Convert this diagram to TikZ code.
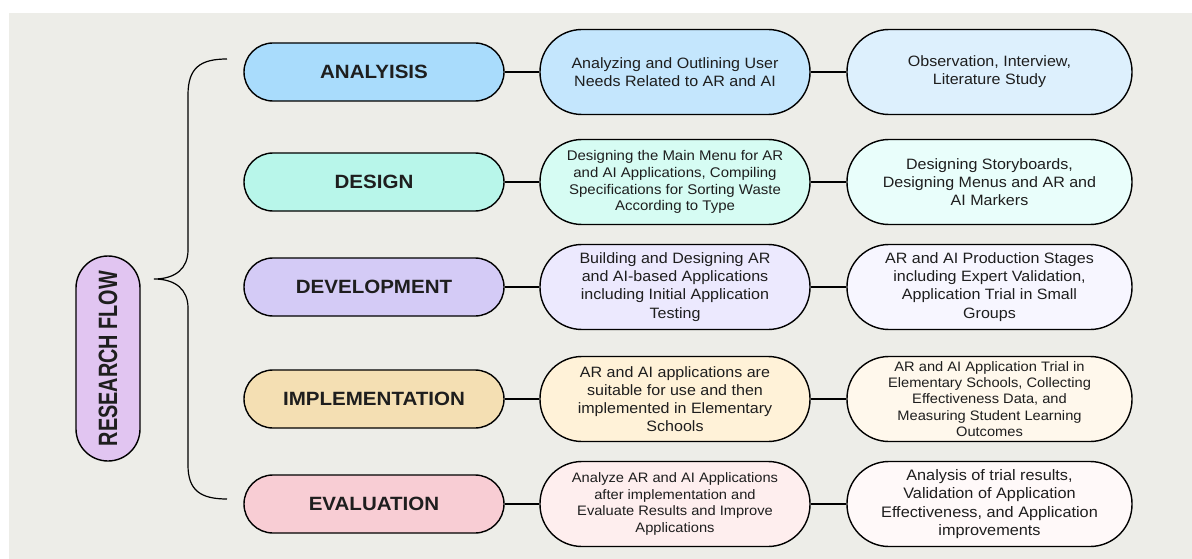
\documentclass[tikz,border=0pt]{standalone}
\usepackage{fontspec}
\setmainfont{Liberation Sans}[FakeStretch=1.07]
\definecolor{canvas}{HTML}{EDEDE8}
\definecolor{ink}{HTML}{1E1E1E}
\definecolor{rootfill}{HTML}{E1C5F1}
% stage / task / method fills per row
\definecolor{sA}{HTML}{A9DCFC}\definecolor{tA}{HTML}{C4E6FD}\definecolor{mA}{HTML}{DDF0FD}
\definecolor{sB}{HTML}{B8F6EA}\definecolor{tB}{HTML}{D6FCF3}\definecolor{mB}{HTML}{E9FEFB}
\definecolor{sC}{HTML}{D4CBF6}\definecolor{tC}{HTML}{ECE9FE}\definecolor{mC}{HTML}{F7F6FF}
\definecolor{sD}{HTML}{F4DFB3}\definecolor{tD}{HTML}{FFF2D8}\definecolor{mD}{HTML}{FFF8EC}
\definecolor{sE}{HTML}{F8CDD4}\definecolor{tE}{HTML}{FEEEEE}\definecolor{mE}{HTML}{FFF9F9}
\newcommand{\bodyA}{\fontsize{15}{18.2}\selectfont}
\newcommand{\bodyB}{\fontsize{14}{16.8}\selectfont}
\newcommand{\bodyC}{\fontsize{13.7}{16.4}\selectfont}
\begin{document}
\begin{tikzpicture}[x=1pt,y=-1pt,
  pill/.style={draw=black, line width=1.4pt, rounded corners=#1, inner sep=0pt,
               align=center, text=ink},
  stage/.style={pill=29pt, minimum width=260pt, minimum height=58pt,
                font=\fontsize{19.2}{23}\selectfont\bfseries},
  task/.style={pill=42pt, minimum width=270pt, minimum height=85pt},
  method/.style={pill=42pt, minimum width=285pt, minimum height=85pt},
  link/.style={draw=black, line width=1.4pt},
  bracket/.style={draw=black, line width=1.2pt}
]
\useasboundingbox (0,0) rectangle (1192,559);
\fill[white] (0,0) rectangle (1192,559);
\fill[canvas] (9,13) rectangle (1192,559);

% root label
\node[pill=32pt, fill=rootfill, minimum width=205pt, minimum height=64pt,
      rotate=90, font=\fontsize{26.5}{30}\selectfont\bfseries]
  (root) at (108,358.5) {\scalebox{0.7}[1]{RESEARCH FLOW}};

% curly bracket grouping the five stages
\coordinate (btop) at (227,59);
\coordinate (btip) at (154,279);
\coordinate (bbot) at (227,499);
\draw[bracket] (btop) .. controls (200,59) and (188,68) .. (188,95)
  -- (188,250) .. controls (188,268) and (176,279) .. (btip)
  .. controls (176,279) and (188,290) .. (188,308)
  -- (188,465) .. controls (188,490) and (200,499) .. (bbot);

% row 1
\node[stage, fill=sA] (s1) at (374,72) {ANALYISIS};
\node[task, fill=tA, font=\bodyA] (t1) at (675,72)
  {Analyzing and Outlining User\\Needs Related to AR and AI};
\node[method, fill=mA, font=\bodyA] (m1) at (989.5,72)
  {Observation, Interview,\\Literature Study};

% row 2
\node[stage, fill=sB] (s2) at (374,182) {DESIGN};
\node[task, fill=tB, font=\bodyB] (t2) at (675,182)
  {Designing the Main Menu for AR\\and AI Applications, Compiling\\Specifications for Sorting Waste\\According to Type};
\node[method, fill=mB, font=\bodyA] (m2) at (989.5,182)
  {Designing Storyboards,\\Designing Menus and AR and\\AI Markers};

% row 3
\node[stage, fill=sC] (s3) at (374,287) {DEVELOPMENT};
\node[task, fill=tC, font=\bodyA] (t3) at (675,287)
  {Building and Designing AR\\and AI-based Applications\\including Initial Application\\Testing};
\node[method, fill=mC, font=\bodyA] (m3) at (989.5,287)
  {AR and AI Production Stages\\including Expert Validation,\\Application Trial in Small\\Groups};

% row 4
\node[stage, fill=sD] (s4) at (374,399) {IMPLEMENTATION};
\node[task, fill=tD, font=\bodyA] (t4) at (675,399)
  {AR and AI applications are\\suitable for use and then\\implemented in Elementary\\Schools};
\node[method, fill=mD, font=\bodyC] (m4) at (989.5,399)
  {AR and AI Application Trial in\\Elementary Schools, Collecting\\Effectiveness Data, and\\Measuring Student Learning\\Outcomes};

% row 5
\node[stage, fill=sE] (s5) at (374,504) {EVALUATION};
\node[task, fill=tE, font=\bodyC] (t5) at (675,504)
  {Analyze AR and AI Applications\\after implementation and\\Evaluate Results and Improve\\Applications};
\node[method, fill=mE, font=\fontsize{15.2}{18.3}\selectfont] (m5) at (989.5,504)
  {Analysis of trial results,\\Validation of Application\\Effectiveness, and Application\\improvements};

% connectors
\foreach \i in {1,...,5}{
  \draw[link] (s\i.east) -- (t\i.west);
  \draw[link] (t\i.east) -- (m\i.west);
}
\end{tikzpicture}
\end{document}
